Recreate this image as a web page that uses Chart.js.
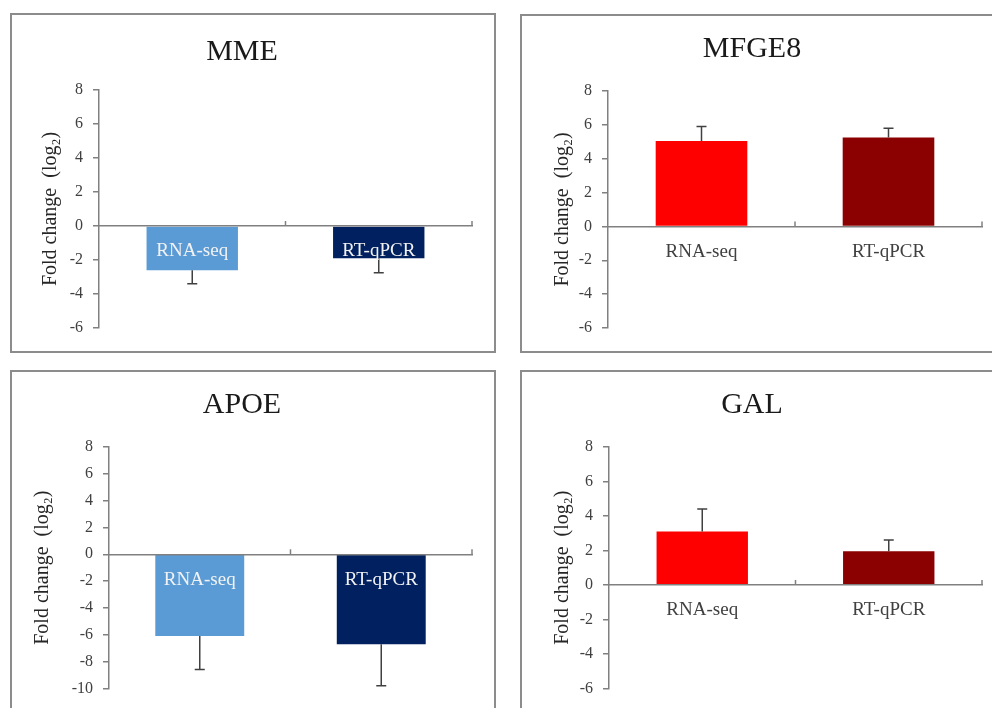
<!DOCTYPE html>
<html>
<head>
<meta charset="utf-8">
<script src="https://cdn.jsdelivr.net/npm/chart.js@4"></script>
<style>
  body { margin: 0; background: #fff; width: 992px; height: 708px; overflow: hidden; position: relative; }
  .box { position: absolute; border: 2px solid #8c8c8c; box-sizing: border-box; }
  canvas { position: absolute; }
</style>
</head>
<body>
<div class="box" style="left:10px; top:13px; width:486px; height:340px;"></div>
<div class="box" style="left:520px; top:14px; width:500px; height:339px;"></div>
<div class="box" style="left:10px; top:370px; width:486px; height:360px;"></div>
<div class="box" style="left:520px; top:370px; width:500px; height:360px;"></div>

<canvas id="mmeChart" style="left:12px; top:15px;" width="532" height="335"></canvas>
<canvas id="mfge8Chart" style="left:522px; top:16px;" width="480" height="334"></canvas>
<canvas id="apoeChart" style="left:12px; top:372px;" width="480" height="336"></canvas>
<canvas id="galChart" style="left:522px; top:372px;" width="480" height="336"></canvas>

<script>
const categories = ['RNA-seq', 'RT-qPCR'];

const mmeValues = [-2.6, -1.9];
const mmeErrors = [0.8, 0.85];

const mfge8Values = [5.05, 5.25];
const mfge8Errors = [0.85, 0.55];

const apoeValues = [-6.1, -6.7];
const apoeErrors = [2.5, 3.1];

const galValues = [3.1, 1.95];
const galErrors = [1.3, 0.65];

const shortRange = [-6, 8];
const longRange = [-10, 8];

const blues = ['#5B9BD5', '#002060'];
const reds = ['#FF0000', '#8B0000'];

Chart.defaults.font.family = '"Liberation Serif", "Times New Roman", serif';
Chart.defaults.color = '#404040';

// error bars, one-sided, going away from zero
const errorBars = {
  id: 'errorBars',
  afterDatasetsDraw(chart) {
    const ctx = chart.ctx;
    const yScale = chart.scales.y;
    const meta = chart.getDatasetMeta(0);
    const ds = chart.data.datasets[0];
    ctx.save();
    ctx.strokeStyle = '#404040';
    ctx.lineWidth = 1.5;
    meta.data.forEach(function(bar, i){
      const v = ds.data[i];
      const e = ds.errors[i];
      const end = v < 0 ? v - e : v + e;
      const y0 = yScale.getPixelForValue(v);
      const y1 = yScale.getPixelForValue(end);
      ctx.beginPath();
      ctx.moveTo(bar.x, y0);
      ctx.lineTo(bar.x, y1);
      ctx.moveTo(bar.x - 5, y1);
      ctx.lineTo(bar.x + 5, y1);
      ctx.stroke();
    });
    ctx.restore();
  }
};

// small upward tick marks between categories on the zero line
const categoryTicks = {
  id: 'categoryTicks',
  afterDraw(chart) {
    const ctx = chart.ctx;
    const x = chart.scales.x;
    const y0 = chart.scales.y.getPixelForValue(0);
    const mid = (x.getPixelForTick(0) + x.getPixelForTick(1)) / 2;
    ctx.save();
    ctx.strokeStyle = '#808080';
    ctx.lineWidth = 1.5;
    [mid, x.right].forEach(function(px){
      ctx.beginPath();
      ctx.moveTo(px, y0);
      ctx.lineTo(px, y0 - 5);
      ctx.stroke();
    });
    ctx.restore();
  }
};

function makeChart(id, title, values, errors, colors, range, opts){
  const data = {
    labels: categories,
    datasets: [{
      data: values,
      errors: errors,
      backgroundColor: colors,
      borderWidth: 0,
      categoryPercentage: 1,
      barPercentage: 0.49
    }]
  };

  const options = {
    responsive: false,
    animation: false,
    layout: {
      padding: { left: 0, right: opts.padRight, top: 0, bottom: opts.padBottom }
    },
    plugins: {
      legend: { display: false },
      tooltip: { enabled: false },
      title: {
        display: true,
        text: title,
        color: '#1a1a1a',
        font: { size: 30, weight: 'normal', lineHeight: 1.2 },
        padding: { top: opts.titleTop, bottom: opts.titleBottom }
      }
    },
    scales: {
      x: {
        position: { y: 0 },
        grid: { display: false, drawTicks: false },
        border: { display: true, color: '#808080', width: 1.5, z: 1 },
        ticks: {
          z: 1,
          color: opts.labelColor,
          font: { size: 19 },
          padding: 14
        }
      },
      y: {
        min: range[0],
        max: range[1],
        afterFit: function(scale){ scale.width = opts.axisWidth; },
        grid: { drawOnChartArea: false, drawTicks: true, tickLength: 6, color: '#808080', lineWidth: 1.5 },
        border: { display: true, color: '#808080', width: 1.5 },
        ticks: { stepSize: 2, font: { size: 16 }, padding: 10 },
        title: {
          display: true,
          text: 'Fold change  (log₂)',
          color: '#262626',
          font: { size: 20, lineHeight: 1.2 },
          padding: { top: opts.yTitlePad, bottom: 0 }
        }
      }
    }
  };

  const config = {
    type: 'bar',
    data: data,
    options: options,
    plugins: [errorBars, categoryTicks]
  };

  return new Chart(document.getElementById(id), config);
}

makeChart('mmeChart', 'MME', mmeValues, mmeErrors, blues, shortRange,
  { padRight: 72, padBottom: 22, titleTop: 19, titleBottom: 20, axisWidth: 87, yTitlePad: 27, labelColor: '#f2f2f2' });

makeChart('mfge8Chart', 'MFGE8', mfge8Values, mfge8Errors, reds, shortRange,
  { padRight: 20, padBottom: 22, titleTop: 15, titleBottom: 24, axisWidth: 86, yTitlePad: 29, labelColor: '#404040' });

makeChart('apoeChart', 'APOE', apoeValues, apoeErrors, blues, longRange,
  { padRight: 20, padBottom: 17, titleTop: 15, titleBottom: 24, axisWidth: 97, yTitlePad: 19, labelColor: '#f2f2f2' });

makeChart('galChart', 'GAL', galValues, galErrors, reds, shortRange,
  { padRight: 20, padBottom: 17, titleTop: 15, titleBottom: 24, axisWidth: 87, yTitlePad: 29, labelColor: '#404040' });
</script>
</body>
</html>
